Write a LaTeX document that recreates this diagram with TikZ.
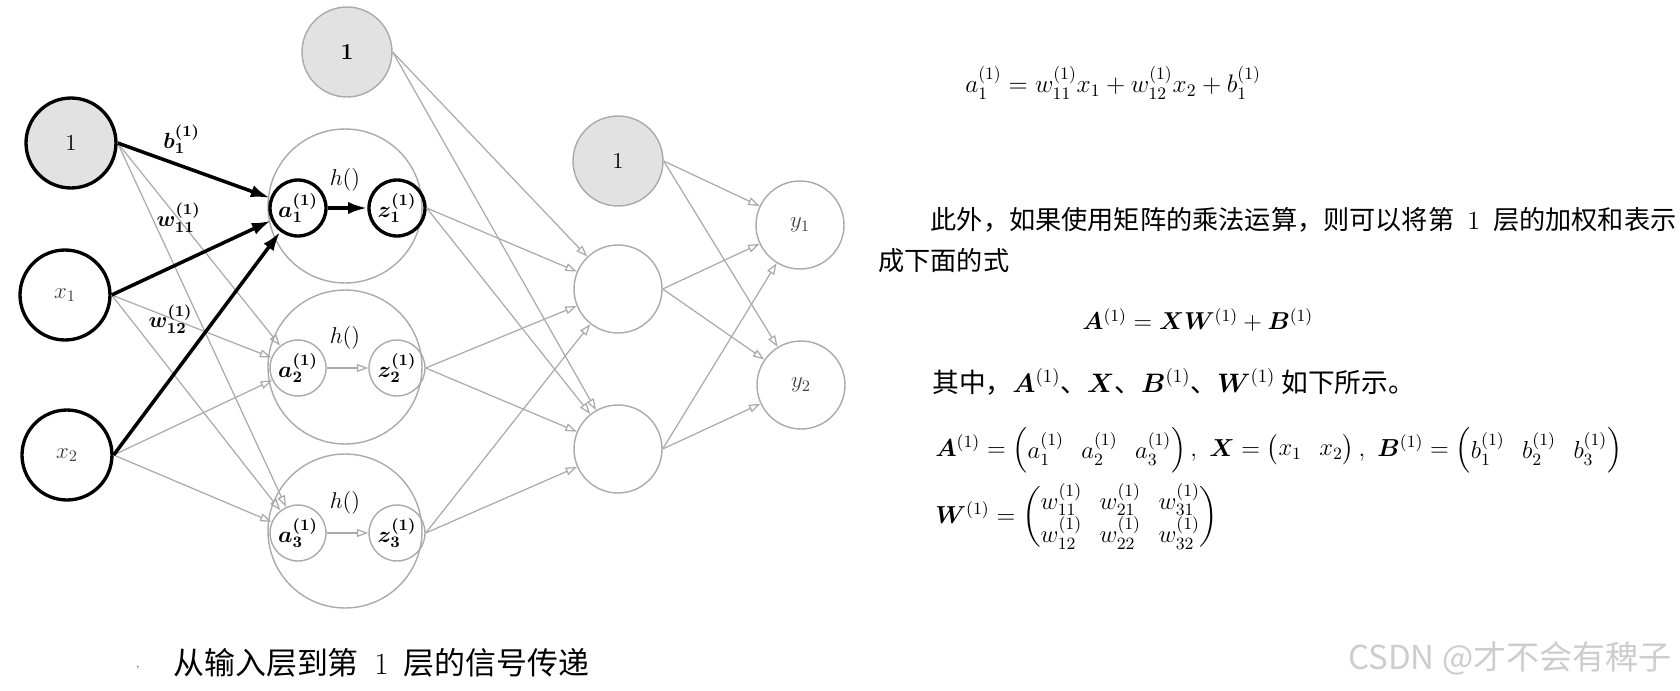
\RequirePackage{fix-cm}
\documentclass[tikz,border=0pt]{standalone}
\usepackage{amsmath}
\usepackage{bm}
\usepackage{fontspec}
\newfontfamily\cjk{Noto Sans CJK SC}
\usetikzlibrary{arrows.meta}
\definecolor{linegray}{RGB}{170,170,170}
\definecolor{biasgray}{RGB}{226,226,226}
\definecolor{markgray}{RGB}{205,205,205}

\begin{document}
\begin{tikzpicture}[x=0.02cm,y=-0.02cm,
	inneuron/.style={circle,draw=black,line width=1.9pt,fill=white,minimum size=1.8cm,inner sep=0pt,font=\fontsize{13}{15}\selectfont},
	inbias/.style={inneuron,fill=biasgray},
	hbias/.style={circle,draw=linegray,line width=0.8pt,fill=biasgray,minimum size=1.8cm,inner sep=0pt,font=\fontsize{13}{15}\selectfont},
	layerring/.style={circle,draw=linegray,line width=0.8pt,minimum size=3.08cm,inner sep=0pt},
	cellgray/.style={circle,draw=linegray,line width=0.8pt,minimum size=1.12cm,inner sep=0pt,font=\fontsize{13}{15}\selectfont\boldmath},
	cellblack/.style={cellgray,draw=black,line width=1.9pt},
	neuron/.style={circle,draw=linegray,line width=0.8pt,minimum size=1.76cm,inner sep=0pt,font=\fontsize{13}{15}\selectfont},
	wire/.style={draw=linegray,line width=0.7pt,-{Triangle[open,length=6.5pt,width=4.5pt]}},
	wireon/.style={draw=black,line width=2pt,-{Latex[length=11pt,width=7pt]}},
	wlabel/.style={font=\fontsize{12.5}{14}\selectfont\boldmath,inner sep=1pt},
	txt/.style={anchor=west,inner sep=0pt}]
	\useasboundingbox (0,0) rectangle (1680,690);

	% input layer
	\node[inbias] (b0) at (71,143) {$1$};
	\node[inneuron] (x1) at (65,295) {\color{black!75}$x_1$};
	\node[inneuron] (x2) at (67,455) {\color{black!75}$x_2$};

	% layer 1
	\node[hbias] (b1) at (347,52) {$\bm{1}$};
	\node[layerring] (r1) at (345,206) {};
	\node[layerring] (r2) at (345,367) {};
	\node[layerring] (r3) at (345,531) {};
	\node (h1) at (345,180) {\fontsize{13}{15}\selectfont$h()$};
	\node (h2) at (345,338) {\fontsize{13}{15}\selectfont$h()$};
	\node (h3) at (345,503) {\fontsize{13}{15}\selectfont$h()$};
	\node[cellblack] (a1) at (298,208) {$a_1^{(1)}$};
	\node[cellblack] (z1) at (397,208) {$z_1^{(1)}$};
	\node[cellgray] (a2) at (298,368) {$a_2^{(1)}$};
	\node[cellgray] (z2) at (397,368) {$z_2^{(1)}$};
	\node[cellgray] (a3) at (298,533) {$a_3^{(1)}$};
	\node[cellgray] (z3) at (397,533) {$z_3^{(1)}$};

	% layer 2 and output
	\node[hbias] (c0) at (618,161) {$1$};
	\node[neuron] (c1) at (618,289) {};
	\node[neuron] (c2) at (618,449) {};
	\node[neuron] (y1) at (800,225) {\color{black!75}$y_1$};
	\node[neuron] (y2) at (801,385) {\color{black!75}$y_2$};

	% connections
	\foreach \s in {b0,x1,x2}
		\foreach \t in {a2,a3}
			\draw[wire] (\s.east) -- (\t);
	\draw[wireon] (b0.east) -- node[wlabel,pos=0.42,above=5pt] {$b_1^{(1)}$} (a1);
	\draw[wireon] (x1.east) -- node[wlabel,pos=0.42,above=16pt] {$w_{11}^{(1)}$} (a1);
	\draw[wireon] (x2.east) -- node[wlabel,pos=0.61,left=11pt] {$w_{12}^{(1)}$} (a1);
	\draw[wireon] (a1) -- (z1);
	\draw[wire] (a2) -- (z2);
	\draw[wire] (a3) -- (z3);
	\foreach \s in {b1,z1,z2,z3}
		\foreach \t in {c1,c2}
			\draw[wire] (\s.east) -- (\t);
	\foreach \s in {c0,c1,c2}
		\foreach \t in {y1,y2}
			\draw[wire] (\s.east) -- (\t);

	\node (tick) at (138,668) {\tiny ,};
	\node[txt,font=\cjk\fontsize{17.6}{20}\selectfont] (cap) at (173,663) {从输入层到第{\enspace}$1${\enspace}层的信号传递};

	% text on the right
	\node[txt,font=\fontsize{14.4}{17}\selectfont] (eqa) at (965,83)
		{$a_1^{(1)} = w_{11}^{(1)}x_1 + w_{12}^{(1)}x_2 + b_1^{(1)}$};
	\node[txt,font=\cjk\fontsize{14.9}{23.3}\selectfont,align=left] (para) at (878,240)
		{\hspace*{2em}此外，如果使用矩阵的乘法运算，则可以将第\hspace{0.5em}$1$\hspace{0.5em}层的加权和表示\\成下面的式};
	\node[txt,font=\fontsize{13.9}{16}\selectfont] (eqm) at (1082,320)
		{$\bm{A}^{(1)} = \bm{X}\bm{W}^{(1)} + \bm{B}^{(1)}$};
	\node[txt,font=\cjk\fontsize{15.2}{18}\selectfont] (where) at (932,382)
		{其中，$\bm{A}^{(1)}$、$\bm{X}$、$\bm{B}^{(1)}$、$\bm{W}^{(1)}$ 如下所示。};
	\node[txt,font=\fontsize{14}{16}\selectfont] (defa) at (935,450)
		{$\bm{A}^{(1)} = \begin{pmatrix} a_1^{(1)} & a_2^{(1)} & a_3^{(1)} \end{pmatrix},\ \bm{X} = \begin{pmatrix} x_1 & x_2 \end{pmatrix},\ \bm{B}^{(1)} = \begin{pmatrix} b_1^{(1)} & b_2^{(1)} & b_3^{(1)} \end{pmatrix}$};
	\node[txt,font=\fontsize{14}{16}\selectfont] (defw) at (935,517)
		{\renewcommand{\arraystretch}{0.92}$\bm{W}^{(1)} = \begin{pmatrix} w_{11}^{(1)} & w_{21}^{(1)} & w_{31}^{(1)} \\ w_{12}^{(1)} & w_{22}^{(1)} & w_{32}^{(1)} \end{pmatrix}$};

	\node[txt,font=\cjk\fontsize{18.8}{22}\selectfont,text=markgray] (mark) at (1348,658) {CSDN @才不会有稗子};
\end{tikzpicture}
\end{document}
